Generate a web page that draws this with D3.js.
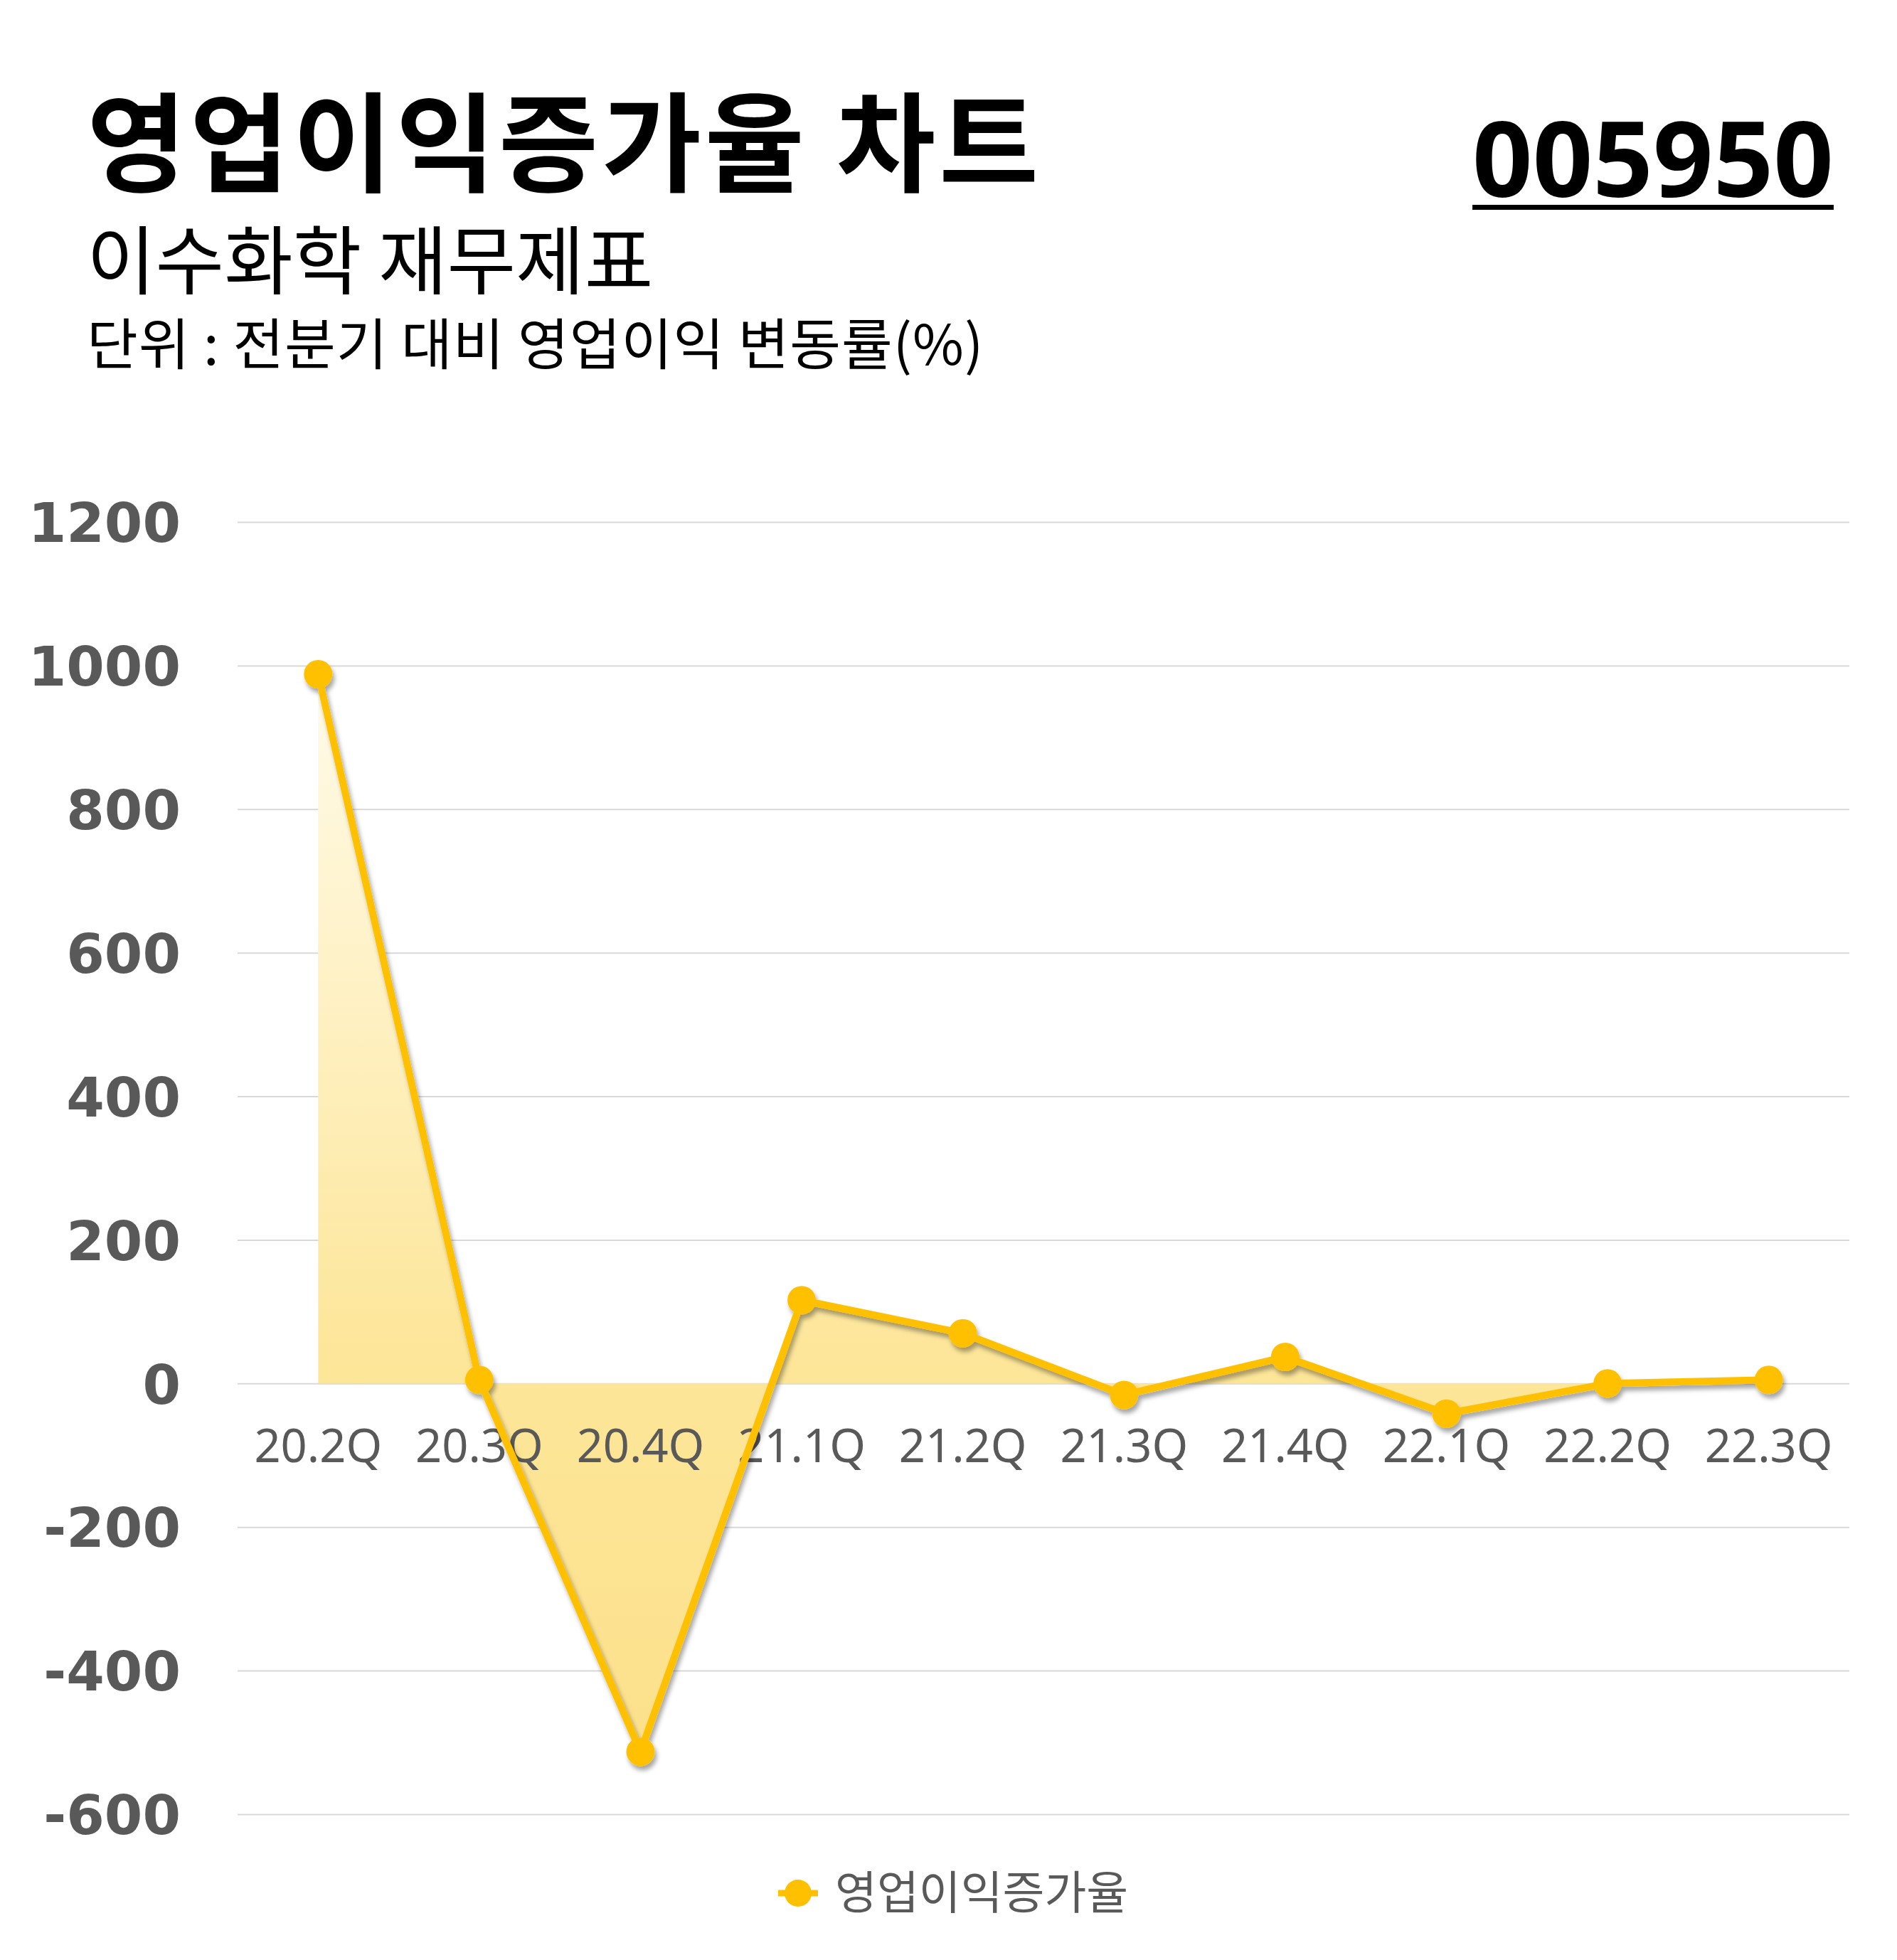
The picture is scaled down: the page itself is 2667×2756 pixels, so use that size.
<!DOCTYPE html>
<html>
<head>
<meta charset="utf-8">
<script src="https://cdn.jsdelivr.net/npm/d3@7"></script>
<style>
  body { margin: 0; background: #fff; }
  svg { display: block; }
</style>
</head>
<body>
<div id="chart"></div>
<script>
// data
const quarters = ["20.2Q", "20.3Q", "20.4Q", "21.1Q", "21.2Q", "21.3Q", "21.4Q", "22.1Q", "22.2Q", "22.3Q"];
const growthRate = [988, 5, -513, 116, 70, -16, 37, -42, 0, 5];
const yTicks = [1200, 1000, 800, 600, 400, 200, 0, -200, -400, -600];

const titleText = "영업이익증가율 차트";
const subtitleText = "이수화학 재무제표";
const unitText = "단위 : 전분기 대비 영업이익 변동률(%)";
const codeText = "005950";
const seriesName = "영업이익증가율";

const W = 2667, H = 2756;
const lineColor = "#FFC000";
const kr = "'Noto Sans CJK KR', 'Noto Sans', sans-serif";

const svg = d3.select("#chart").append("svg").attr("width", W).attr("height", H);
const defs = svg.append("defs");

const grad = defs.append("linearGradient").attr("id", "areaGrad")
  .attr("gradientUnits", "userSpaceOnUse");
const shadow = defs.append("filter").attr("id", "shadow")
  .attr("x", "-10%").attr("y", "-10%").attr("width", "120%").attr("height", "120%");
shadow.append("feDropShadow").attr("dx", 3).attr("dy", 6).attr("stdDeviation", 3)
  .attr("flood-color", "#000").attr("flood-opacity", 0.35);

// headings
svg.append("text").attr("x", 122).attr("y", 258).text(titleText)
  .attr("font-family", kr).attr("font-weight", 700).attr("font-size", 152)
  .attr("letter-spacing", 5).attr("fill", "#000");
svg.append("text").attr("x", 122).attr("y", 405).text(subtitleText)
  .attr("font-family", kr).attr("font-weight", 400).attr("font-size", 105).attr("fill", "#000");
svg.append("text").attr("x", 122).attr("y", 513).text(unitText)
  .attr("font-family", kr).attr("font-weight", 400).attr("font-size", 78)
  .attr("letter-spacing", 1).attr("fill", "#000");

const code = svg.append("text").attr("x", 2578).attr("y", 277).attr("text-anchor", "end").text(codeText)
  .attr("font-family", "'Noto Sans', sans-serif").attr("font-weight", 700).attr("font-size", 148).attr("fill", "#000");
const cb = code.node().getBBox();
svg.append("rect").attr("x", cb.x).attr("y", 288).attr("width", cb.width).attr("height", 7).attr("fill", "#000");

// scales
const plot = {left: 334, right: 2600};
const x = d3.scaleBand().domain(quarters).range([plot.left, plot.right]);
const cx = d => x(d) + x.bandwidth() / 2;
const y = d3.scaleLinear().domain([-600, 1200]).range([2551, 734]);

grad.attr("x1", 0).attr("x2", 0).attr("y1", y(1000)).attr("y2", y(-600));
grad.append("stop").attr("offset", "0%").attr("stop-color", "#FFFBEB");
grad.append("stop").attr("offset", "60%").attr("stop-color", "#FDE699");
grad.append("stop").attr("offset", "100%").attr("stop-color", "#FCE08A");

// gridlines + y labels
const yAxis = svg.append("g").attr("transform", `translate(${plot.left},0)`)
  .call(d3.axisLeft(y).tickValues(yTicks).tickFormat(d => String(d))
    .tickSize(-(plot.right - plot.left)).tickPadding(80));
yAxis.select(".domain").remove();
yAxis.selectAll(".tick line").attr("stroke", "#d9d9d9").attr("stroke-width", 2);
yAxis.selectAll(".tick text").attr("font-family", "'DejaVu Sans', sans-serif").attr("font-weight", 700)
  .attr("font-size", 77).attr("fill", "#595959").attr("dy", "0.36em");

const pts = quarters.map((q, i) => ({q, v: growthRate[i]}));

// area to zero
svg.append("path").datum(pts)
  .attr("d", d3.area().x(d => cx(d.q)).y0(y(0)).y1(d => y(d.v)))
  .attr("fill", "url(#areaGrad)");

// x labels
svg.append("g").selectAll("text").data(quarters).join("text")
  .attr("x", d => cx(d)).attr("y", 2056).attr("text-anchor", "middle").text(d => d)
  .attr("font-family", "'Noto Sans', sans-serif").attr("font-size", 65).attr("fill", "#595959");

// line and markers
const series = svg.append("g").attr("filter", "url(#shadow)");
series.append("path").datum(pts)
  .attr("d", d3.line().x(d => cx(d.q)).y(d => y(d.v)))
  .attr("fill", "none").attr("stroke", lineColor).attr("stroke-width", 10).attr("stroke-linejoin", "round");
series.selectAll("circle").data(pts).join("circle")
  .attr("cx", d => cx(d.q)).attr("cy", d => y(d.v)).attr("r", 20).attr("fill", lineColor);

// legend
const lg = svg.append("g").attr("transform", "translate(1122,2662)");
lg.append("line").attr("x1", -28).attr("x2", 28).attr("stroke", lineColor).attr("stroke-width", 9);
lg.append("circle").attr("r", 19).attr("fill", lineColor);
lg.append("text").attr("x", 52).attr("dy", "0.35em").text(seriesName)
  .attr("font-family", kr).attr("font-size", 64).attr("fill", "#595959");
</script>
</body>
</html>
